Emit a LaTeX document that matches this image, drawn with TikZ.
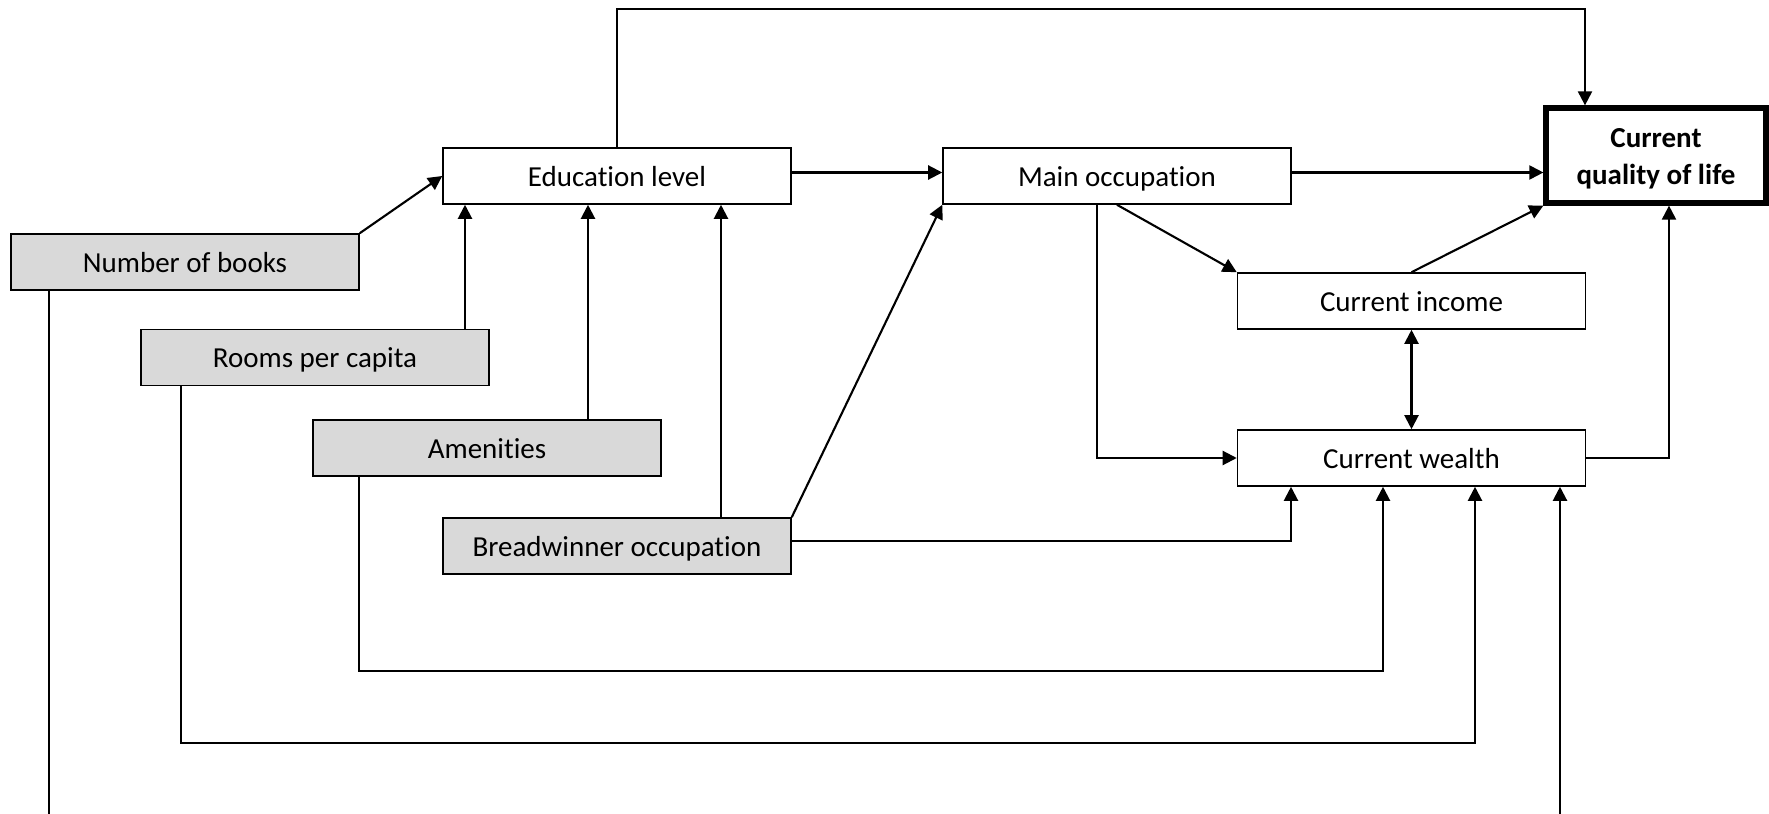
\documentclass[tikz,border=0pt]{standalone}
\usepackage{fontspec}
\setmainfont{Carlito}[RawFeature={-liga;-clig;-calt;-dlig}]
\usetikzlibrary{arrows.meta}
\begin{document}
\begin{tikzpicture}[x=0.02cm,y=-0.02cm,
  font=\fontsize{16.5}{21}\selectfont,
  box/.style={draw, line width=0.9pt, minimum width=6.96cm, minimum height=1.12cm, inner sep=0pt, fill=white, text height=14pt, text depth=2.4pt},
  exo/.style={box, fill=exogray},
  tip/.tip={Triangle[length=8pt,width=8pt]},
  arr/.style={line width=1.2pt, -tip},
  dbl/.style={line width=1.2pt, tip-tip},
  link/.style={line width=1.1pt}]
\definecolor{exogray}{HTML}{D9D9D9}
\useasboundingbox (0,0) rectangle (1769,814);

% background variables (grey)
\node[exo] (nb)    at (185,262)   {Number of books};
\node[exo] (rooms) at (315,357.5) {Rooms per capita};
\node[exo] (amen)  at (487,448)   {Amenities};
\node[exo] (bread) at (617,546)   {Breadwinner occupation};

% mediating and outcome variables
\node[box] (edu)    at (617,176)    {Education level};
\node[box] (main)   at (1117,176)   {Main occupation};
\node[box] (income) at (1411.5,301) {Current income};
\node[box] (wealth) at (1411.5,458) {Current wealth};
\node[draw, line width=3pt, minimum width=4.4cm, minimum height=1.9cm, inner sep=0pt]
  (qol) at (1656,155.5) {};
\node[align=center, inner sep=0pt, font=\fontsize{16.5}{21}\selectfont\bfseries]
  (qoltext) at ([yshift=-0.07cm]qol.center) {Current\\quality of life};

% helper columns for vertical connectors
\coordinate (c49)   at (49,0);
\coordinate (c181)  at (181,0);
\coordinate (c359)  at (359,0);
\coordinate (c465)  at (465,0);
\coordinate (c588)  at (588,0);
\coordinate (c721)  at (721,0);
\coordinate (c1097) at (1097,0);
\coordinate (c1291) at (1291,0);
\coordinate (c1383) at (1383,0);
\coordinate (c1475) at (1475,0);
\coordinate (c1560) at (1560,0);
\coordinate (c1585) at (1585,0);
\coordinate (c1669) at (1669,0);
\coordinate (top)   at (0,9);
\coordinate (rowA)  at (0,671);
\coordinate (rowR)  at (0,743);
\coordinate (bot)   at (0,814);

% into education level
\draw[arr] (nb.north east) -- (edu.west);
\draw[arr] (rooms.north -| c465) -- (edu.south -| c465);
\draw[arr] (amen.north -| c588) -- (edu.south -| c588);
\draw[arr] (bread.north -| c721) -- (edu.south -| c721);

% into main occupation
\draw[arr] ([yshift=0.07cm]edu.east) -- ([yshift=0.07cm]main.west);
\draw[arr] (bread.north east) -- (main.south west);

% into current quality of life
\draw[arr] (edu.north) -- (edu.north |- top) -- (c1585 |- top) -- (qol.north -| c1585);
\draw[arr] ([yshift=0.07cm]main.east) -- ([yshift=0.07cm]main.east -| qol.west);
\draw[arr] (income.north) -- (qol.south west);
\draw[arr] (wealth.east) -| (qol.south -| c1669);

% occupation to income and wealth
\draw[arr] (main.south) -- (income.north west);
\draw[arr] (main.south -| c1097) |- (wealth.west);
\draw[dbl] (income.south) -- (wealth.north);

% background variables into current wealth
\draw[arr] ([yshift=0.1cm]bread.east) -| (wealth.south -| c1291);
\draw[arr] (amen.south -| c359) -- (c359 |- rowA) -| (wealth.south -| c1383);
\draw[arr] (rooms.south -| c181) -- (c181 |- rowR) -| (wealth.south -| c1475);
\coordinate (nbend) at (c49 |- bot);
\coordinate (wbend) at (c1560 |- bot);
\draw[link] (nb.south -| c49) -- (nbend);
\draw[arr] (wbend) -- (wealth.south -| c1560);
\end{tikzpicture}
\end{document}
